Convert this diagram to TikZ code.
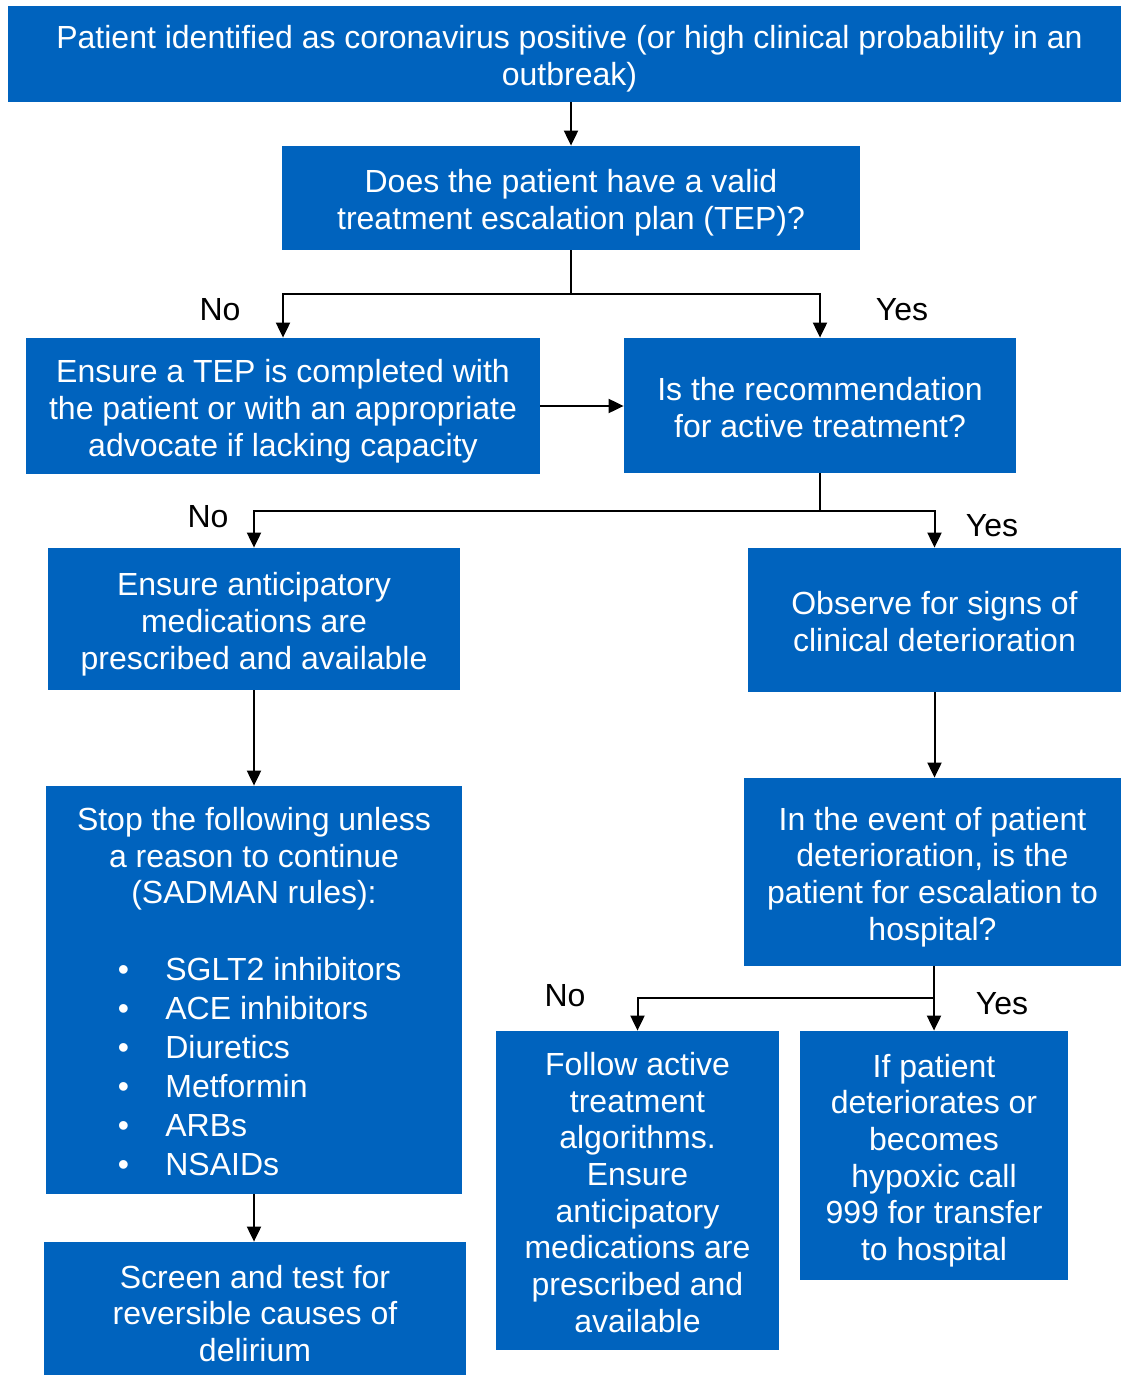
\documentclass[tikz,border=0pt]{standalone}
\usepackage{fontspec}
\setmainfont{Liberation Sans}
\usetikzlibrary{arrows.meta}
\definecolor{nhsblue}{RGB}{0,99,190}
\newcommand\bx[6]{%
  \node[box, minimum width={(#4-#2)*0.5pt}, minimum height={(#5-#3)*0.5pt}] (#1) at ({(#2+#4)/2},{(#3+#5)/2})
  {\raisebox{-3pt}[\height][\depth]{\begin{tabular}{@{}c@{}}#6\end{tabular}}};}
\begin{document}
\begin{tikzpicture}[x=0.5pt,y=-0.5pt,
  box/.style={fill=nhsblue, draw=none, inner sep=0pt, text=white,
    font=\fontsize{16}{18.35}\selectfont},
  lbl/.style={inner sep=0pt, text=black, font=\fontsize{16}{18.35}\selectfont},
  txt/.style={inner sep=0pt, text=white, font=\fontsize{16}{18.35}\selectfont},
  arr/.style={line width=1pt, draw=black, -{Triangle[length=7.5pt,width=7pt]}},
  ln/.style={line width=1pt, draw=black}]
\useasboundingbox (0,0) rectangle (1121,1375);
\bx{start}{8}{6}{1121}{102}{\hspace*{5pt}Patient identified as coronavirus positive (or high clinical probability in an\\\hspace*{5pt}outbreak)}
\bx{tep}{282}{146}{860}{250}{Does the patient have a valid\\treatment escalation plan (TEP)?}
\bx{ensure}{26}{338}{540}{474}{Ensure a TEP is completed with\\the patient or with an appropriate\\advocate if lacking capacity}
\bx{rec}{624}{338}{1016}{473}{Is the recommendation\\for active treatment?}
\bx{antic}{48}{548}{460}{690}{Ensure anticipatory\\medications are\\prescribed and available}
\bx{observe}{748}{548}{1121}{692}{Observe for signs of\\clinical deterioration}
\bx{stop}{46}{786}{462}{1194}{}
\bx{screen}{44}{1242}{466}{1381}{Screen and test for\\reversible causes of\\delirium}
\bx{event}{744}{778}{1121}{966}{In the event of patient\\deterioration, is the\\patient for escalation to\\hospital?}
\bx{follow}{496}{1031}{779}{1350}{Follow active\\treatment\\algorithms.\\Ensure\\anticipatory\\medications are\\prescribed and\\available}
\bx{ifpat}{800}{1031}{1068}{1280}{If patient\\deteriorates or\\becomes\\hypoxic call\\999 for transfer\\to hospital}
% text inside stop box
\node[txt, align=center] (stoptxt) at (254,859) {Stop the following unless\\a reason to continue\\(SADMAN rules):};
\node[txt, align=left, anchor=west, font=\fontsize{16}{19.5}\selectfont] (stoplist) at (117.4,1066.5)
 {\makebox[23.8pt][l]{\textbullet}SGLT2 inhibitors\\
  \makebox[23.8pt][l]{\textbullet}ACE inhibitors\\
  \makebox[23.8pt][l]{\textbullet}Diuretics\\
  \makebox[23.8pt][l]{\textbullet}Metformin\\
  \makebox[23.8pt][l]{\textbullet}ARBs\\
  \makebox[23.8pt][l]{\textbullet}NSAIDs};
% connectors
\draw[arr] (start.south -| tep.north) -- (tep.north);
\coordinate (j1) at (571,294);
\draw[ln] (tep.south) -- (j1);
\draw[arr] (j1) -| (ensure.north);
\draw[arr] (j1) -| (rec.north);
\node[lbl] (no1) at (220,310) {No};
\node[lbl] (yes1) at (902,310) {Yes};
\draw[arr] (ensure.east) -- (rec.west |- ensure.east);
\coordinate (j2) at (820,511);
\draw[ln] (rec.south) -- (j2);
\draw[arr] (j2) -| (antic.north);
\draw[arr] (j2) -| (observe.north);
\node[lbl] (no2) at (208,517) {No};
\node[lbl] (yes2) at (992,526) {Yes};
\draw[arr] (antic.south) -- (antic.south |- stop.north);
\draw[arr] (observe.south) -- (observe.south |- event.north);
\draw[arr] (stop.south) -- (stop.south |- screen.north);
\coordinate (j3) at (934,998);
\draw[ln] (j3 |- event.south) -- (j3);
\draw[arr] (j3) -| (follow.north);
\draw[arr] (j3) -- (j3 |- ifpat.north);
\node[lbl] (no3) at (565,996) {No};
\node[lbl] (yes3) at (1002,1004) {Yes};
\end{tikzpicture}
\end{document}
